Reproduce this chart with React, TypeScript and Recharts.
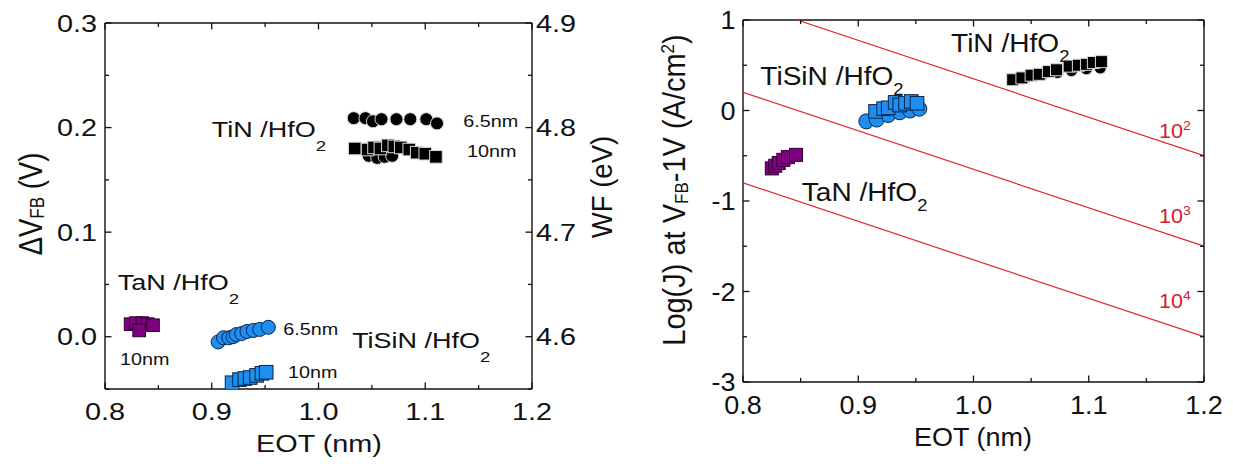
import React from 'react';
import { ScatterChart, Scatter, XAxis, YAxis } from 'recharts';

const FONT = '"Liberation Sans", Arial, Helvetica, sans-serif';
const INK = '#111111';
const BLUE = '#1e8ef0';
const BLUE_EDGE = '#0b2546';
const PURPLE = '#800080';
const PURPLE_EDGE = '#2e002e';
const BLACK_EDGE = '#d8d8d8';
const RED = '#e3242b';
const RED_TEXT = '#d0202a';

// ---------- axis ticks ----------
const eotTicks = [0.8, 0.85, 0.9, 0.95, 1.0, 1.05, 1.1, 1.15, 1.2];
const eotTickLabels = [0.8, 0.9, 1.0, 1.1, 1.2];
const dvfbTicks = [-0.05, 0, 0.05, 0.1, 0.15, 0.2, 0.25, 0.3];
const dvfbTickLabels = [0, 0.1, 0.2, 0.3];
const wfTicks = [4.55, 4.6, 4.65, 4.7, 4.75, 4.8, 4.85, 4.9];
const wfTickLabels = [4.6, 4.7, 4.8, 4.9];
const logjTicks = [-3, -2.5, -2, -1.5, -1, -0.5, 0, 0.5, 1];
const logjTickLabels = [-3, -2, -1, 0, 1];

// ---------- left panel: dVFB vs EOT ----------
const tinEot65 = [1.033, 1.044, 1.051, 1.059, 1.073, 1.086, 1.101, 1.111];
const tinDvfb65 = [0.209, 0.209, 0.206, 0.208, 0.208, 0.208, 0.208, 0.204];
const tinEot10c = [1.047, 1.055, 1.062, 1.069];
const tinDvfb10c = [0.173, 0.171, 0.172, 0.173];
const tinEot10 = [1.034, 1.046, 1.052, 1.058, 1.065, 1.071, 1.077, 1.085, 1.092, 1.1, 1.11];
const tinDvfb10 = [0.18, 0.179, 0.181, 0.18, 0.183, 0.182, 0.181, 0.179, 0.176, 0.175, 0.172];
const tanEot10 = [0.824, 0.829, 0.835, 0.84, 0.845, 0.832];
const tanDvfb10 = [0.012, 0.013, 0.013, 0.012, 0.011, 0.006];
const tisinEot65 = [0.906, 0.911, 0.916, 0.92, 0.923, 0.928, 0.933, 0.939, 0.945, 0.953];
const tisinDvfb65 = [-0.005, -0.001, -0.001, 0.0, 0.002, 0.003, 0.005, 0.006, 0.007, 0.009];
const tisinEot10 = [0.919, 0.926, 0.931, 0.936, 0.942, 0.947, 0.951];
const tisinDvfb10 = [-0.044, -0.041, -0.04, -0.039, -0.037, -0.035, -0.034];

const leftCompoundLabels = [
  { x: 0.9, y: 0.191, main: 'TiN /HfO', sub: '2' },
  { x: 0.812, y: 0.0446, main: 'TaN /HfO', sub: '2' },
  { x: 1.0315, y: -0.0108, main: 'TiSiN /HfO', sub: '2' },
];
const leftThicknessLabels = [
  { x: 1.1355, y: 0.2008, text: '6.5nm' },
  { x: 1.139, y: 0.172, text: '10nm' },
  { x: 0.814, y: -0.0271, text: '10nm' },
  { x: 0.967, y: 0.0016, text: '6.5nm' },
  { x: 0.9715, y: -0.0395, text: '10nm' },
];

// ---------- right panel: Log(J) vs EOT ----------
const tinEotJc = [1.046, 1.06, 1.073, 1.085, 1.098, 1.11];
const tinLogJc = [0.37, 0.4, 0.42, 0.44, 0.46, 0.47];
const tinEotJ = [1.034, 1.042, 1.05, 1.057, 1.065, 1.072, 1.083, 1.091, 1.098, 1.104, 1.111];
const tinLogJ = [0.34, 0.36, 0.39, 0.4, 0.43, 0.45, 0.49, 0.5, 0.51, 0.53, 0.54];
const tisinEotJc = [0.907, 0.916, 0.926, 0.936, 0.945, 0.953];
const tisinLogJc = [-0.12, -0.1, -0.05, -0.02, 0.0, 0.02];
const tisinEotJ = [0.915, 0.922, 0.926, 0.932, 0.936, 0.941, 0.946, 0.951];
const tisinLogJ = [-0.01, 0.02, 0.03, 0.09, 0.06, 0.08, 0.1, 0.08];
const tanEotJ = [0.825, 0.828, 0.831, 0.835, 0.839, 0.846];
const tanLogJ = [-0.64, -0.61, -0.58, -0.545, -0.515, -0.49];

const fieldLine2 = [{ x: 0.847, y: 1.0 }, { x: 1.2, y: -0.5 }];
const fieldLine3 = [{ x: 0.8, y: 0.2 }, { x: 1.2, y: -1.5 }];
const fieldLine4 = [{ x: 0.8, y: -0.8 }, { x: 1.2, y: -2.5 }];

const rightCompoundLabels = [
  { x: 0.9805, y: 0.65, main: 'TiN /HfO', sub: '2' },
  { x: 0.815, y: 0.283, main: 'TiSiN /HfO', sub: '2' },
  { x: 0.851, y: -1.005, main: 'TaN /HfO', sub: '2' },
];
const decadeLabels = [
  { x: 1.161, y: -0.3, base: '10', exp: '2' },
  { x: 1.161, y: -1.24, base: '10', exp: '3' },
  { x: 1.161, y: -2.18, base: '10', exp: '4' },
];

const pts = (xs: number[], ys: number[]) => xs.map((x, i) => ({ x, y: ys[i] }));

function SText({ x, y, anchor = 'start', size, stretch, fill = INK, children }: any) {
  return (
    <text
      transform={`translate(${x} ${y}) scale(${stretch} 1)`}
      x={0}
      y={0}
      textAnchor={anchor}
      fontSize={size}
      fontFamily={FONT}
      fill={fill}
    >
      {children}
    </text>
  );
}

type Side = 'bottom' | 'top' | 'left' | 'right';
function makeTick(side: Side, majors: number[], show: boolean, digits: number, size: number, stretch: number, gap: number) {
  return (props: any) => {
    const { x, y, payload } = props;
    const v = Number(payload.value);
    const major = majors.some((m) => Math.abs(m - v) < 1e-6);
    const len = major ? 6.5 : 4;
    let x2 = x;
    let y2 = y;
    if (side === 'bottom') y2 = y - len;
    if (side === 'top') y2 = y + len;
    if (side === 'left') x2 = x + len;
    if (side === 'right') x2 = x - len;
    let label = null;
    if (show && major) {
      const txt = v.toFixed(digits);
      if (side === 'bottom')
        label = <SText x={x} y={y + gap} anchor="middle" size={size} stretch={stretch}>{txt}</SText>;
      if (side === 'left')
        label = <SText x={x - gap} y={y + 0.36 * size} anchor="end" size={size} stretch={stretch}>{txt}</SText>;
      if (side === 'right')
        label = <SText x={x + gap} y={y + 0.36 * size} anchor="start" size={size} stretch={stretch}>{txt}</SText>;
    }
    return (
      <g>
        <line x1={x} y1={y} x2={x2} y2={y2} stroke={INK} strokeWidth={1.3} />
        {label}
      </g>
    );
  };
}

const circleShape = (fill: string, stroke: string, r: number) => (p: any) =>
  <circle cx={p.cx} cy={p.cy} r={r} fill={fill} stroke={stroke} strokeWidth={1} />;
const squareShape = (fill: string, stroke: string, h: number) => (p: any) =>
  <rect x={p.cx - h} y={p.cy - h} width={2 * h} height={2 * h} fill={fill} stroke={stroke} strokeWidth={1} />;
const noShape = () => <g />;

const compoundShape = (size: number, subSize: number, subDy: number, stretch: number) => (p: any) => {
  const d = p.payload;
  return (
    <SText x={p.cx} y={p.cy} size={size} stretch={stretch}>
      {d.main}
      <tspan fontSize={subSize} dy={subDy}>{d.sub}</tspan>
    </SText>
  );
};
const plainShape = (size: number, stretch: number) => (p: any) =>
  <SText x={p.cx} y={p.cy} size={size} stretch={stretch}>{p.payload.text}</SText>;
const decadeShape = (size: number, supSize: number, supDy: number, stretch: number) => (p: any) => {
  const d = p.payload;
  return (
    <SText x={p.cx} y={p.cy} size={size} stretch={stretch} fill={RED_TEXT}>
      {d.base}
      <tspan fontSize={supSize} dy={supDy}>{d.exp}</tspan>
    </SText>
  );
};

const axisLine = { stroke: INK, strokeWidth: 1.4 };
const L_ST = 1.2;
const R_ST = 1.08;

function LeftPanel() {
  return (
    <ScatterChart width={620} height={464} margin={{ top: 0, right: 0, bottom: 0, left: 0 }}>
      <XAxis xAxisId="b" dataKey="x" type="number" orientation="bottom" domain={[0.8, 1.2]} allowDataOverflow
        ticks={eotTicks} interval={0} height={75} tickSize={0} tickMargin={0} tickLine={false} axisLine={axisLine}
        tick={makeTick('bottom', eotTickLabels, true, 1, 24, L_ST, 31)} />
      <XAxis xAxisId="t" dataKey="x" type="number" orientation="top" domain={[0.8, 1.2]} allowDataOverflow
        ticks={eotTicks} interval={0} height={23} tickSize={0} tickMargin={0} tickLine={false} axisLine={axisLine}
        tick={makeTick('top', eotTickLabels, false, 1, 24, L_ST, 0)} />
      <YAxis yAxisId="l" dataKey="y" type="number" orientation="left" domain={[-0.05, 0.3]} allowDataOverflow
        ticks={dvfbTicks} interval={0} width={105} tickSize={0} tickMargin={0} tickLine={false} axisLine={axisLine}
        tick={makeTick('left', dvfbTickLabels, true, 1, 24, L_ST, 8)} />
      <YAxis yAxisId="r" dataKey="y" type="number" orientation="right" domain={[4.55, 4.9]} allowDataOverflow
        ticks={wfTicks} interval={0} width={88} tickSize={0} tickMargin={0} tickLine={false} axisLine={axisLine}
        tick={makeTick('right', wfTickLabels, true, 1, 24, L_ST, 4)} />

      <Scatter xAxisId="b" yAxisId="l" data={pts(tinEot10c, tinDvfb10c)} shape={circleShape('#000', BLACK_EDGE, 6.5)} isAnimationActive={false} />
      <Scatter xAxisId="b" yAxisId="l" data={pts(tinEot65, tinDvfb65)} shape={circleShape('#000', BLACK_EDGE, 6.5)} isAnimationActive={false} />
      <Scatter xAxisId="b" yAxisId="l" data={pts(tinEot10, tinDvfb10)} shape={squareShape('#000', BLACK_EDGE, 6.3)} isAnimationActive={false} />
      <Scatter xAxisId="b" yAxisId="l" data={pts(tanEot10, tanDvfb10)} shape={squareShape(PURPLE, PURPLE_EDGE, 6.3)} isAnimationActive={false} />
      <Scatter xAxisId="b" yAxisId="l" data={pts(tisinEot65, tisinDvfb65)} shape={circleShape(BLUE, BLUE_EDGE, 7)} isAnimationActive={false} />
      <Scatter xAxisId="b" yAxisId="l" data={pts(tisinEot10, tisinDvfb10)} shape={squareShape(BLUE, BLUE_EDGE, 6.8)} isAnimationActive={false} />

      <Scatter xAxisId="t" yAxisId="l" data={leftCompoundLabels} shape={compoundShape(22.5, 15.5, 14, L_ST)} isAnimationActive={false} />
      <Scatter xAxisId="t" yAxisId="l" data={leftThicknessLabels} shape={plainShape(16.5, L_ST)} isAnimationActive={false} />
    </ScatterChart>
  );
}

function RightPanel() {
  return (
    <ScatterChart width={613} height={464} margin={{ top: 0, right: 0, bottom: 0, left: 0 }}>
      <XAxis xAxisId="b" dataKey="x" type="number" orientation="bottom" domain={[0.8, 1.2]} allowDataOverflow
        ticks={eotTicks} interval={0} height={82} tickSize={0} tickMargin={0} tickLine={false} axisLine={axisLine}
        tick={makeTick('bottom', eotTickLabels, true, 1, 25, R_ST, 32)} />
      <XAxis xAxisId="t" dataKey="x" type="number" orientation="top" domain={[0.8, 1.2]} allowDataOverflow
        ticks={eotTicks} interval={0} height={20} tickSize={0} tickMargin={0} tickLine={false} axisLine={axisLine}
        tick={makeTick('top', eotTickLabels, false, 1, 25, R_ST, 0)} />
      <YAxis yAxisId="l" dataKey="y" type="number" orientation="left" domain={[-3, 1]} allowDataOverflow
        ticks={logjTicks} interval={0} width={123} tickSize={0} tickMargin={0} tickLine={false} axisLine={axisLine}
        tick={makeTick('left', logjTickLabels, true, 0, 25, R_ST, 7.5)} />
      <YAxis yAxisId="r" dataKey="y" type="number" orientation="right" domain={[-3, 1]} allowDataOverflow
        ticks={logjTicks} interval={0} width={29} tickSize={0} tickMargin={0} tickLine={false} axisLine={axisLine}
        tick={makeTick('right', logjTickLabels, false, 0, 25, R_ST, 0)} />

      <Scatter xAxisId="t" yAxisId="r" data={fieldLine2} line={{ stroke: RED, strokeWidth: 1.2 }} shape={noShape} isAnimationActive={false} />
      <Scatter xAxisId="t" yAxisId="r" data={fieldLine3} line={{ stroke: RED, strokeWidth: 1.2 }} shape={noShape} isAnimationActive={false} />
      <Scatter xAxisId="t" yAxisId="r" data={fieldLine4} line={{ stroke: RED, strokeWidth: 1.2 }} shape={noShape} isAnimationActive={false} />

      <Scatter xAxisId="b" yAxisId="l" data={pts(tinEotJc, tinLogJc)} shape={circleShape('#000', BLACK_EDGE, 6)} isAnimationActive={false} />
      <Scatter xAxisId="b" yAxisId="l" data={pts(tinEotJ, tinLogJ)} shape={squareShape('#000', BLACK_EDGE, 6)} isAnimationActive={false} />
      <Scatter xAxisId="b" yAxisId="l" data={pts(tisinEotJc, tisinLogJc)} shape={circleShape(BLUE, BLUE_EDGE, 7.5)} isAnimationActive={false} />
      <Scatter xAxisId="b" yAxisId="l" data={pts(tisinEotJ, tisinLogJ)} shape={squareShape(BLUE, BLUE_EDGE, 6.8)} isAnimationActive={false} />
      <Scatter xAxisId="b" yAxisId="l" data={pts(tanEotJ, tanLogJ)} shape={squareShape(PURPLE, PURPLE_EDGE, 6.5)} isAnimationActive={false} />

      <Scatter xAxisId="t" yAxisId="l" data={rightCompoundLabels} shape={compoundShape(26, 17, 10, R_ST)} isAnimationActive={false} />
      <Scatter xAxisId="t" yAxisId="l" data={decadeLabels} shape={decadeShape(20, 13, -8, R_ST)} isAnimationActive={false} />
    </ScatterChart>
  );
}

function Titles() {
  return (
    <svg width={1233} height={464} style={{ position: 'absolute', left: 0, top: 0, pointerEvents: 'none' }}>
      <text transform={`translate(41.7 204) scale(1.2 1) rotate(-90)`} textAnchor="middle" fontSize={27.5} fontFamily={FONT} fill={INK}>
        ΔV<tspan fontSize={17} dy={2}>FB</tspan><tspan fontSize={27.5} dy={-2}> (V)</tspan>
      </text>
      <text transform={`translate(612 187) scale(1.1 1) rotate(-90)`} textAnchor="middle" fontSize={27.5} fontFamily={FONT} fill={INK}>
        WF (eV)
      </text>
      <text transform={`translate(319 452) scale(1.2 1)`} textAnchor="middle" fontSize={24} fontFamily={FONT} fill={INK}>
        EOT (nm)
      </text>
      <text transform={`translate(685 190) scale(1.08 1) rotate(-90)`} textAnchor="middle" fontSize={29} fontFamily={FONT} fill={INK}>
        Log(J) at V<tspan fontSize={17} dy={3}>FB</tspan><tspan fontSize={29} dy={-3}>-1V (A/cm</tspan><tspan fontSize={17} dy={-10}>2</tspan><tspan fontSize={29} dy={10}>)</tspan>
      </text>
      <text transform={`translate(973 446) scale(1.08 1)`} textAnchor="middle" fontSize={25} fontFamily={FONT} fill={INK}>
        EOT (nm)
      </text>
    </svg>
  );
}

export default function App() {
  return (
    <div style={{ position: 'absolute', left: 0, top: 0, width: 1233, height: 464, background: '#fff' }}>
      <div style={{ position: 'absolute', left: 0, top: 0 }}>
        <LeftPanel />
      </div>
      <div style={{ position: 'absolute', left: 620, top: 0 }}>
        <RightPanel />
      </div>
      <Titles />
    </div>
  );
}
